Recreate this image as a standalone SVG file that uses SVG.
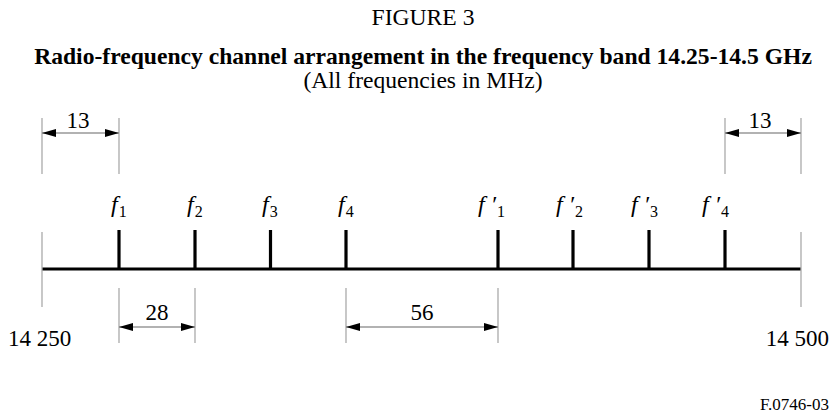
<svg xmlns="http://www.w3.org/2000/svg" width="835" height="416" viewBox="0 0 835 416">
<style>
text{font-family:"Liberation Serif","Times New Roman",serif;fill:#000}
.t{font-size:23.6px;text-anchor:middle}
.b{font-weight:bold}
.d{font-size:23px;text-anchor:middle}
.f{font-size:24px;font-style:italic}
.s{font-size:16px;font-style:normal}
.ext{stroke:#aaa;stroke-width:1.3;fill:none}
.arr{stroke:#999;stroke-width:1.3;fill:none;marker-start:url(#ah);marker-end:url(#ah)}
.tick{stroke:#000;stroke-width:3.2;fill:none}
</style>
<defs>
<marker id="ah" viewBox="0 0 14 8" refX="14" refY="4" markerWidth="14" markerHeight="8" markerUnits="userSpaceOnUse" orient="auto-start-reverse">
<path d="M0,0 L14,4 L0,8 z" fill="#000"/>
</marker>
</defs>
<g id="titles">
<text class="t" x="423" y="25">FIGURE 3</text>
<text class="t b" x="423" y="64">Radio-frequency channel arrangement in the frequency band 14.25-14.5 GHz</text>
<text class="t" x="423" y="88">(All frequencies in MHz)</text>
</g>
<g id="connectors">
<line class="tick" x1="42" y1="269" x2="801" y2="269"/>
<line class="ext" x1="42" y1="232" x2="42" y2="307"/>
<line class="ext" x1="801" y1="232" x2="801" y2="307"/>
<line class="ext" x1="42" y1="118" x2="42" y2="174"/>
<line class="ext" x1="119" y1="118" x2="119" y2="174"/>
<line class="arr" x1="42" y1="133" x2="119" y2="133"/>
<line class="ext" x1="725" y1="118" x2="725" y2="174"/>
<line class="ext" x1="801" y1="118" x2="801" y2="174"/>
<line class="arr" x1="725" y1="133" x2="801" y2="133"/>
<line class="ext" x1="119" y1="288" x2="119" y2="343"/>
<line class="ext" x1="195" y1="288" x2="195" y2="343"/>
<line class="arr" x1="119" y1="327" x2="195" y2="327"/>
<line class="ext" x1="346" y1="288" x2="346" y2="343"/>
<line class="ext" x1="498" y1="288" x2="498" y2="343"/>
<line class="arr" x1="346" y1="327" x2="498" y2="327"/>
</g>
<g id="ticks">
<line class="tick" x1="119" y1="230" x2="119" y2="269"/>
<line class="tick" x1="195" y1="230" x2="195" y2="269"/>
<line class="tick" x1="270.5" y1="230" x2="270.5" y2="269"/>
<line class="tick" x1="346" y1="230" x2="346" y2="269"/>
<line class="tick" x1="498" y1="230" x2="498" y2="269"/>
<line class="tick" x1="573" y1="230" x2="573" y2="269"/>
<line class="tick" x1="649" y1="230" x2="649" y2="269"/>
<line class="tick" x1="725" y1="230" x2="725" y2="269"/>
</g>
<g id="labels">
<text class="f" x="111" y="212">f<tspan class="s" dx="1" dy="5">1</tspan></text>
<text class="f" x="187" y="212">f<tspan class="s" dx="1" dy="5">2</tspan></text>
<text class="f" x="262" y="212">f<tspan class="s" dx="1" dy="5">3</tspan></text>
<text class="f" x="338" y="212">f<tspan class="s" dx="1" dy="5">4</tspan></text>
<text class="f" x="478" y="212">f ′<tspan class="s" dx="1" dy="5">1</tspan></text>
<text class="f" x="556" y="212">f ′<tspan class="s" dx="1" dy="5">2</tspan></text>
<text class="f" x="631" y="212">f ′<tspan class="s" dx="1" dy="5">3</tspan></text>
<text class="f" x="702" y="212">f ′<tspan class="s" dx="1" dy="5">4</tspan></text>
</g>
<g id="dims">
<text class="d" x="78" y="128">13</text>
<text class="d" x="760" y="128">13</text>
<text class="d" x="157" y="320">28</text>
<text class="d" x="422" y="320">56</text>
</g>
<g id="ends">
<text x="8" y="346" style="font-size:23px">14 250</text>
<text x="829" y="346" style="font-size:23px;text-anchor:end">14 500</text>
<text x="829" y="410" style="font-size:17px;text-anchor:end">F.0746-03</text>
</g>
</svg>
